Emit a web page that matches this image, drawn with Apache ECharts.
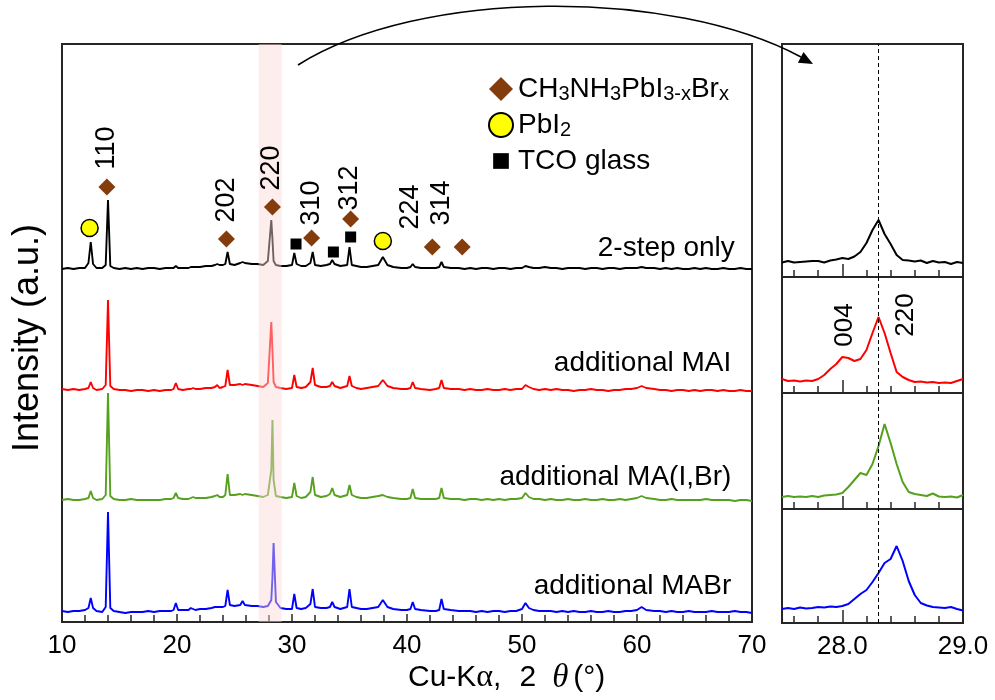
<!DOCTYPE html>
<html><head><meta charset="utf-8">
<script src="https://cdn.jsdelivr.net/npm/echarts@6/dist/echarts.min.js"></script>
<style>html,body{margin:0;padding:0;background:#fff}#c{width:995px;height:700px}</style>
</head><body><div id="c"></div>
<script>
// ---------------- DATA ----------------
const mainTheta = [10.0,10.5,11.0,11.5,12.0,12.3,12.5,12.7,13.0,13.5,
 13.8,14.0,14.2,14.5,15.0,15.5,16.0,16.5,17.0,17.5,
 18.0,18.5,19.0,19.5,19.7,19.9,20.1,20.5,21.0,21.2,
 21.4,21.6,22.0,22.5,23.0,23.3,23.5,23.7,24.0,24.2,
 24.4,24.6,25.0,25.5,25.7,25.9,26.5,27.0,27.5,27.9,
 28.2,28.3,28.4,28.6,29.0,29.5,30.0,30.2,30.4,30.8,
 31.2,31.6,31.8,32.0,32.5,33.0,33.3,33.5,33.7,34.2,
 34.8,35.0,35.2,35.6,36.0,36.5,37.0,37.5,37.9,38.3,
 38.8,39.5,40.0,40.3,40.5,40.7,41.2,42.0,42.5,42.8,
 43.0,43.2,43.8,44.5,45.0,45.5,46.0,46.5,47.0,47.5,
 48.0,48.5,49.0,49.5,50.0,50.3,50.6,51.0,51.5,52.0,
 52.5,53.0,53.5,54.0,54.5,55.0,55.5,56.0,56.5,57.0,
 57.5,58.0,58.5,59.0,59.5,60.0,60.4,60.8,61.5,62.0,
 62.5,63.0,63.5,64.0,64.5,65.0,65.5,66.0,66.5,67.0,
 67.5,68.0,68.5,69.0,69.5,70.0];

const int2Step = [0,1,0,1,1,6,27,5,1,1,
 4,69,3,1,0,1,0,1,0,1,
 1,0,1,1,1,3,1,1,1,2,
 2,2,2,3,3,4,5,4,4,5,
 17,5,4,6,7,6,5,5,4,8,
 49,30,8,4,3,3,4,16,5,3,
 3,6,17,4,3,4,5,9,5,3,
 4,22,4,3,2,2,3,4,12,4,
 2,1,1,2,5,2,1,1,1,2,
 7,2,1,1,0,1,0,1,1,0,
 1,1,0,1,1,3,2,1,1,2,
 1,1,0,1,1,1,0,1,1,0,
 1,1,0,1,1,1,2,1,1,0,
 1,0,1,0,0,1,0,1,0,0,
 1,0,0,1,0,0];

const intMAI = [1,0,1,0,1,2,8,2,0,1,
 5,90,4,1,0,0,-1,0,0,-1,
 0,-1,0,0,1,7,1,0,1,1,
 2,1,1,2,2,3,5,2,3,4,
 20,5,5,6,5,6,5,4,3,7,
 68,40,8,3,2,1,2,15,3,2,
 3,8,22,5,3,3,4,8,4,2,
 4,14,4,2,1,2,3,4,10,4,
 2,1,1,2,8,2,1,0,1,2,
 10,2,1,1,0,1,0,0,1,0,
 0,1,0,1,1,5,3,1,0,1,
 0,1,0,0,-1,0,0,1,0,0,
 -1,0,0,1,1,2,4,2,1,0,
 0,-1,0,0,-1,0,-1,0,0,-1,
 0,-1,-1,0,-1,-1];

const intMAIBr = [0,1,0,0,1,2,9,2,0,1,
 5,107,4,1,0,0,1,0,0,0,
 0,0,1,1,2,7,2,1,1,2,
 3,2,2,2,3,4,5,3,3,5,
 26,5,5,6,5,6,5,4,3,5,
 30,80,20,4,3,2,3,17,4,2,
 3,8,23,5,3,4,6,12,5,3,
 5,15,5,3,2,2,3,4,5,3,
 2,1,1,2,11,2,1,1,1,2,
 12,2,1,1,0,1,1,0,1,0,
 1,0,1,1,2,7,3,1,1,0,
 1,0,0,1,0,0,1,0,0,1,
 0,0,1,0,1,2,4,2,1,0,
 0,1,0,0,0,0,0,1,0,0,
 0,0,-1,0,0,-1];

const intMABr = [1,0,1,1,2,4,14,4,1,0,
 5,100,4,1,0,-1,0,0,0,1,
 0,1,1,1,2,9,2,2,2,4,
 3,2,3,3,4,5,5,5,5,6,
 22,7,6,7,11,7,6,6,5,6,
 12,35,69,10,4,3,3,18,4,3,
 4,8,23,5,4,4,5,10,5,3,
 5,23,5,4,3,3,4,5,12,5,
 3,2,2,3,10,3,2,1,1,2,
 13,3,2,1,1,1,0,1,0,1,
 1,0,1,1,3,9,4,2,1,1,
 1,0,1,0,1,0,0,1,0,0,
 1,0,0,1,1,2,5,2,1,1,
 0,1,0,0,1,0,0,0,1,0,
 0,0,1,0,0,-1];

const sampleNames = ['2-step only','additional MAI','additional MA(I,Br)','additional MABr'];
const traceOffsets = [353, 232, 122, 10];
const sampleLabelX = [68.5, 68.2, 68.2, 68.2];
const sampleLabelY = [374, 259, 145, 36];

// zoomed 220 region
const zoomTheta = [27.50,27.55,27.60,27.65,27.70,27.75,27.80,27.85,27.90,27.95,
 28.00,28.05,28.10,28.15,28.20,28.25,28.30,28.35,28.40,28.45,
 28.50,28.55,28.60,28.65,28.70,28.75,28.80,28.85,28.90,28.95,29.00];
const zoom2Step = [14.5,16,14.5,15,15.5,16,16,14.5,16.5,17.5,19,18,20.5,25,34,47,57,43,33,22,17,16.5,15.5,16.5,14,16,14.5,15,13,15,14];
const zoomMAI = [14,12,12.5,11.5,12.5,12,14,18,24,29,36,35,32,34,43,60,76,60,40,21,16,13,11,11.5,10.5,11,10,10.5,10,12,14];
const zoomMAIBr = [12,13,12,12.5,12,13,12,13.5,14,14.5,16,22,29,36,34,45,63,85,66,45,27,17,15,14,13,15.5,12.5,12,12.5,11.5,14];
const zoomMABr = [14,15,14,15.5,14.5,15,16,15.5,16.5,16,17,19,24,29,33,41,50,60,64,77,62,42,28,20,17.5,16,15.5,15,16,14,12.5];
const refPeak220 = 28.3;
const highlightRange = [27.1, 29.1];

// phase markers and peak indices (main panel)
const perovMarkX = [13.9, 24.3, 28.3, 31.7, 35.1, 42.2, 44.8];
const perovMarkY = [435, 383, 415, 384, 403, 375, 375];
const pbi2MarkX = [12.4, 37.9];
const pbi2MarkY = [394, 381];
const tcoMarkX = [30.35, 33.6, 35.1];
const tcoMarkY = [378, 370, 385];
const peakLabels = ['110','202','220','310','312','224','314'];
const peakLabelX = [13.9, 24.3, 28.2, 31.7, 35.0, 40.3, 43.0];
const peakLabelY = [474, 422, 454, 419, 434, 415, 419];
const zoomPeakLabels = ['004','220'];
const zoomPeakLabelX = [28.02, 28.53];
const zoomPeakLabelY = [68, 78];

// ---------------- LAYOUT / STYLE ----------------
const FONT = '"Liberation Sans", Arial, sans-serif';
const SERIF = '"Liberation Serif", "DejaVu Serif", serif';
const colors = ['#000000', '#ff0000', '#55a01e', '#0000ff'];
const zoomSets = [zoom2Step, zoomMAI, zoomMAIBr, zoomMABr];
const mainSets = [int2Step, intMAI, intMAIBr, intMABr];
const MAIN = {left: 62, top: 44, width: 690, height: 578};
const ZL = 782, ZR = 963, ZMIN = 27.5, ZMAX = 29.0;
const pxPerDeg = (ZR - ZL) / (ZMAX - ZMIN);
const xpx = v => ZL + (v - ZMIN) * pxPerDeg;
const panelRows = [[44, 233], [277, 116], [393, 116], [509, 114]];
const frame = {show: true, borderColor: '#262626', borderWidth: 2, backgroundColor: 'transparent'};
const hiddenAxis = {axisLine: {show: false}, axisTick: {show: false}, axisLabel: {show: false}, splitLine: {show: false}};

const grid = [Object.assign({left: MAIN.left, top: MAIN.top, width: MAIN.width, height: MAIN.height}, frame)];
const xAxis = [{
  gridIndex: 0, type: 'value', min: 10, max: 70, interval: 10,
  axisLine: {show: false}, splitLine: {show: false},
  axisTick: {show: true, inside: true, length: 8, lineStyle: {color: '#262626', width: 1.5}},
  minorTick: {show: true, splitNumber: 5, length: 7, lineStyle: {color: '#262626', width: 1.5}},
  minorSplitLine: {show: false},
  axisLabel: {fontSize: 26, color: '#000', fontFamily: FONT, margin: 11}
}];
const yAxis = [Object.assign({gridIndex: 0, type: 'value', min: 0, max: MAIN.height}, hiddenAxis)];

panelRows.forEach((r, p) => {
  grid.push(Object.assign({left: ZL, top: r[0], width: ZR - ZL, height: r[1]}, frame));
  xAxis.push(Object.assign({gridIndex: 1 + p, type: 'value', min: ZMIN, max: ZMAX}, hiddenAxis));
  yAxis.push(Object.assign({gridIndex: 1 + p, type: 'value', min: 0, max: r[1]}, hiddenAxis));
});
// minor tick overlays (every 0.2)
panelRows.forEach((r, p) => {
  grid.push({left: xpx(27.6), top: r[0], width: ZR - xpx(27.6), height: r[1], show: false});
  xAxis.push({gridIndex: 5 + p, type: 'value', min: 27.6, max: 29.0, interval: 0.2,
    axisLine: {show: false}, splitLine: {show: false}, axisLabel: {show: false},
    axisTick: {show: true, inside: true, length: 7, lineStyle: {color: '#262626', width: 1.5}}});
  yAxis.push(Object.assign({gridIndex: 5 + p, type: 'value', min: 0, max: 1}, hiddenAxis));
});
// major tick overlays (every 1.0)
panelRows.forEach((r, p) => {
  grid.push({left: xpx(28.0), top: r[0], width: ZR - xpx(28.0), height: r[1], show: false});
  xAxis.push({gridIndex: 9 + p, type: 'value', min: 28, max: 29, interval: 1,
    axisLine: {show: false}, splitLine: {show: false},
    axisLabel: {show: p === 3, fontSize: 26, color: '#000', fontFamily: FONT, margin: 11,
      formatter: v => v.toFixed(1)},
    axisTick: {show: true, inside: true, length: 13, lineStyle: {color: '#262626', width: 1.5}}});
  yAxis.push(Object.assign({gridIndex: 9 + p, type: 'value', min: 0, max: 1}, hiddenAxis));
});

const series = [];
mainSets.forEach((vals, k) => {
  const s = {
    name: sampleNames[k], type: 'line', xAxisIndex: 0, yAxisIndex: 0, z: 1,
    data: mainTheta.map((x, i) => [x, traceOffsets[k] + vals[i]]),
    showSymbol: false, symbol: 'none', lineStyle: {color: colors[k], width: 1.9}, itemStyle: {color: colors[k]}
  };
  if (k === 3) {
    s.markArea = {silent: true, z: 3, itemStyle: {color: 'rgba(250,215,215,0.45)', borderWidth: 0},
      label: {show: false}, data: [[{xAxis: highlightRange[0]}, {xAxis: highlightRange[1]}]]};
  }
  series.push(s);
});
zoomSets.forEach((vals, p) => {
  series.push({
    name: sampleNames[p] + ' (220)', type: 'line', xAxisIndex: 1 + p, yAxisIndex: 1 + p,
    data: zoomTheta.map((x, i) => [x, vals[i]]), showSymbol: false, symbol: 'none',
    lineStyle: {color: colors[p], width: 2}, itemStyle: {color: colors[p]},
    markLine: {silent: true, symbol: ['none', 'none'], label: {show: false},
      lineStyle: {color: '#000', width: 1, type: [4, 3]}, data: [{xAxis: refPeak220}]}
  });
});
series.push({
  name: 'CH3NH3PbI3-xBr_x', type: 'scatter', xAxisIndex: 0, yAxisIndex: 0, z: 5,
  symbol: 'diamond', symbolSize: 17, itemStyle: {color: '#843c0c', opacity: 1},
  data: perovMarkX.map((x, i) => [x, perovMarkY[i]])
});
series.push({
  name: 'PbI2', type: 'scatter', xAxisIndex: 0, yAxisIndex: 0, z: 5,
  symbol: 'circle', symbolSize: 17, itemStyle: {color: '#ffff00', borderColor: '#000', borderWidth: 1.5, opacity: 1},
  data: pbi2MarkX.map((x, i) => [x, pbi2MarkY[i]])
});
series.push({
  name: 'TCO glass', type: 'scatter', xAxisIndex: 0, yAxisIndex: 0, z: 5,
  symbol: 'rect', symbolSize: 11, itemStyle: {color: '#000', opacity: 1},
  data: tcoMarkX.map((x, i) => [x, tcoMarkY[i]])
});
series.push({
  name: 'peak index', type: 'scatter', xAxisIndex: 0, yAxisIndex: 0, z: 5, symbolSize: 0,
  itemStyle: {opacity: 1},
  data: peakLabels.map((t, i) => ({name: t, value: [peakLabelX[i], peakLabelY[i]]})),
  label: {show: true, position: 'inside', rotate: 90, formatter: '{b}', fontSize: 27, color: '#000', opacity: 1, fontFamily: FONT}
});
series.push({
  name: 'sample labels', type: 'scatter', xAxisIndex: 0, yAxisIndex: 0, z: 5, symbolSize: 0,
  itemStyle: {opacity: 1},
  data: sampleNames.map((t, i) => ({name: t, value: [sampleLabelX[i], sampleLabelY[i]]})),
  label: {show: true, position: 'left', distance: 0, formatter: '{b}', fontSize: 28, color: '#000', opacity: 1, fontFamily: FONT}
});
series.push({
  name: 'zoom index', type: 'scatter', xAxisIndex: 2, yAxisIndex: 2, z: 5, symbolSize: 0,
  itemStyle: {opacity: 1},
  data: zoomPeakLabels.map((t, i) => ({name: t, value: [zoomPeakLabelX[i], zoomPeakLabelY[i]]})),
  label: {show: true, position: 'inside', rotate: 90, formatter: '{b}', fontSize: 26, color: '#000', opacity: 1, fontFamily: FONT}
});

const legendText = {
  'CH3NH3PbI3-xBr_x': 'CH{s|3}NH{s|3}PbI{s|3-x}Br{s|x}',
  'PbI2': 'PbI{s|2}',
  'TCO glass': 'TCO glass'
};

const option = {
  animation: false,
  backgroundColor: '#fff',
  grid, xAxis, yAxis, series,
  legend: {
    orient: 'vertical', left: 483, top: 69, itemWidth: 24, itemHeight: 24, itemGap: 6,
    selectedMode: false,
    data: [
      {name: 'CH3NH3PbI3-xBr_x', icon: 'diamond'},
      {name: 'PbI2', icon: 'circle'},
      {name: 'TCO glass', icon: 'path://M0,0M26,26M4.5,4.5L21.5,4.5L21.5,21.5L4.5,21.5Z'}
    ],
    formatter: n => legendText[n],
    textStyle: {fontSize: 28, color: '#000', fontFamily: FONT, lineHeight: 30,
      rich: {s: {fontSize: 20, lineHeight: 14, verticalAlign: 'bottom', color: '#000', fontFamily: FONT}}}
  },
  graphic: [
    {type: 'bezierCurve', z: 100, silent: true,
      shape: {x1: 298, y1: 65, cpx1: 420, cpy1: -12, cpx2: 672, cpy2: -12, x2: 801, y2: 57},
      style: {stroke: '#000', lineWidth: 1.6, fill: 'none'}},
    {type: 'polygon', z: 100, silent: true,
      shape: {points: [[813, 64], [797.9, 62.7], [803.5, 52.1]]},
      style: {fill: '#000'}},
    {type: 'text', z: 100, silent: true, x: 28, y: 338, rotation: Math.PI / 2,
      style: {text: 'Intensity (a.u.)', fontSize: 36, fontFamily: FONT, fill: '#000', align: 'center', verticalAlign: 'middle'}},
    {type: 'text', z: 100, silent: true, x: 408, y: 678,
      style: {text: 'Cu-K{a|α},{sp| }2{sp2| }{t|θ}{sp3| }(°)', fontSize: 30, fontFamily: FONT, fill: '#000',
        align: 'left', verticalAlign: 'middle',
        rich: {a: {fontFamily: SERIF, fontSize: 32, fill: '#000'},
               sp: {width: 18, fontSize: 30},
               sp2: {width: 16, fontSize: 30},
               sp3: {width: 5, fontSize: 30},
               t: {fontFamily: SERIF, fontStyle: 'italic', fontSize: 33, fill: '#000'}}}}
  ]
};
const chart = echarts.init(document.getElementById('c'), null, {renderer: 'canvas'});
chart.setOption(option);
</script>
</body></html>
